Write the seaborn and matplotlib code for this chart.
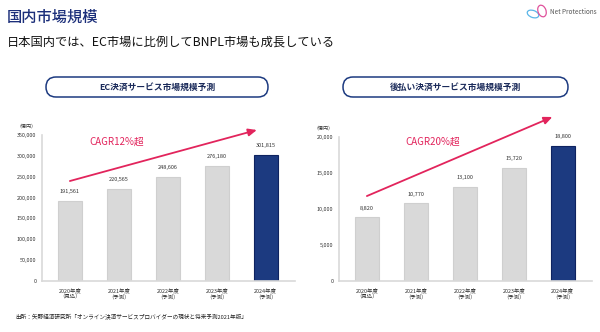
import matplotlib
matplotlib.use("Agg")
import matplotlib.pyplot as plt
import seaborn as sns
from matplotlib.patches import FancyBboxPatch, Ellipse

# ---- data ----
categories = ["2020年度\n（見込）", "2021年度\n（予測）", "2022年度\n（予測）", "2023年度\n（予測）", "2024年度\n（予測）"]
ec_values = [191561, 220565, 248606, 276180, 301815]
bnpl_values = [8820, 10770, 13100, 15720, 18800]
ec_ticks = [0, 50000, 100000, 150000, 200000, 250000, 300000, 350000]
bnpl_ticks = [0, 5000, 10000, 15000, 20000]
ec_title = "EC決済サービス市場規模予測"
bnpl_title = "後払い決済サービス市場規模予測"
ec_cagr = "CAGR12%超"
bnpl_cagr = "CAGR20%超"
unit = "（億円）"
page_title = "国内市場規模"
page_subtitle = "日本国内では、EC市場に比例してBNPL市場も成長している"
source = "出所：矢野経済研究所「オンライン決済サービスプロバイダーの現状と将来予測2021年版」"

sns.set_style("white")
plt.rcParams["font.family"] = ["Noto Sans CJK JP", "DejaVu Sans"]

GRAY = "#d9d9d9"
NAVY = "#1c3a80"
CRIMSON = "#e2245c"
SPINE = "#d9d9d9"
TXT = "#333333"

W, H = 600, 332
fig = plt.figure(figsize=(6, 3.32), dpi=100)
fig.patch.set_facecolor("white")

# overlay axes in pixel units for decorations
deco = fig.add_axes([0, 0, 1, 1], zorder=-1)
deco.set_xlim(0, W)
deco.set_ylim(H, 0)
deco.axis("off")

def fx(px):
    return px / W

def fy(py):
    return 1 - py / H

palette = [GRAY] * 4 + [NAVY]
edges = ["#cfcfcf"] * 4 + ["#0e2360"]

def make_panel(left_px, top_px, values, ticks, title, box, cagr, arrow, cagr_pos):
    ax = fig.add_axes([fx(left_px), fy(281), fx(253), (281 - top_px) / H])
    sns.barplot(x=categories, y=values, hue=categories, palette=palette,
                legend=False, ax=ax, width=0.49, saturation=1)
    for patch, ec in zip(ax.patches, edges):
        patch.set_edgecolor(ec)
        patch.set_linewidth(0.8)
    ax.set_xlim(-0.57, 4.6)
    ax.set_ylim(0, ticks[-1])
    ax.set_yticks(ticks)
    ax.set_yticklabels([f"{t:,}" for t in ticks], fontsize=3.9, color=TXT)
    ax.tick_params(axis="y", length=2, width=0.5, color=SPINE, pad=2)
    ax.tick_params(axis="x", length=0, pad=5, labelsize=3.9, labelcolor=TXT)
    for s in ["top", "right"]:
        ax.spines[s].set_visible(False)
    for s in ["left", "bottom"]:
        ax.spines[s].set_color(SPINE)
        ax.spines[s].set_linewidth(1.2)
    ax.set_xlabel("")
    ax.set_ylabel("")
    for cont in ax.containers:
        ax.bar_label(cont, labels=[f"{int(round(v)):,}" for v in cont.datavalues],
                     padding=5, fontsize=4, color=TXT)
    ax.text(-0.02, 1.06, unit, transform=ax.transAxes, ha="right", va="center",
            fontsize=3.6, color=TXT)
    # CAGR arrow and text
    ax.annotate("", xy=arrow[1], xytext=arrow[0], xycoords="data",
                annotation_clip=False,
                arrowprops=dict(arrowstyle="-|>,head_length=0.5,head_width=0.22",
                                color=CRIMSON, lw=1.3, shrinkA=0, shrinkB=0))
    ax.text(cagr_pos[0], cagr_pos[1], cagr, ha="center", va="center",
            fontsize=7, color=CRIMSON)
    # header box (pill)
    bx0, bx1 = box
    fb = FancyBboxPatch((bx0, 77), bx1 - bx0, 20,
                        boxstyle="round,pad=0,rounding_size=10",
                        facecolor="white", edgecolor=NAVY, linewidth=1.1)
    deco.add_patch(fb)
    deco.text((bx0 + bx1) / 2, 87.5, title, ha="center", va="center",
              fontsize=6.3, fontweight="bold", color="#1a2a5a")
    return ax

make_panel(42, 135, ec_values, ec_ticks, ec_title, (46, 268), ec_cagr,
           ((0.0, 239700), (3.82, 362000)), (0.96, 333000))
make_panel(339, 137, bnpl_values, bnpl_ticks, bnpl_title, (343, 568), bnpl_cagr,
           ((0.0, 11800), (3.79, 22780)), (1.35, 19300))

# page titles
deco.text(7, 17, page_title, ha="left", va="center", fontsize=11,
          color="#1c2f7a", fontweight="medium")
deco.text(7, 42, page_subtitle, ha="left", va="center", fontsize=8.8,
          color="#111111")
deco.text(15, 317, source, ha="left", va="center", fontsize=4.1,
          color="#222222")

# logo
deco.add_patch(Ellipse((533, 14), 12, 7, angle=20, facecolor="none",
                       edgecolor="#5bb6e8", linewidth=0.9))
deco.add_patch(Ellipse((542, 11), 8, 12, angle=-20, facecolor="none",
                       edgecolor="#e0529c", linewidth=0.9))
deco.text(550, 12, "Net Protections", ha="left", va="center",
          fontsize=4.6, color="#555555")

fig.savefig("out.png", dpi=100, facecolor="white")
